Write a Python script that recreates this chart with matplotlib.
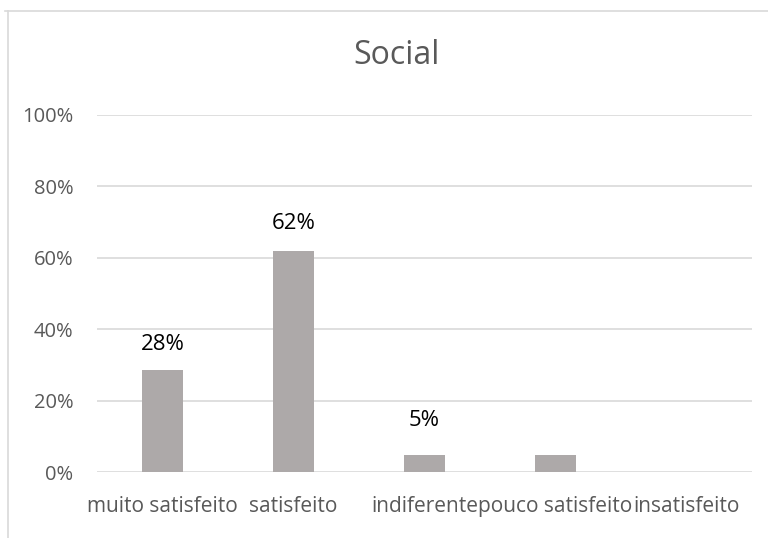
import matplotlib.pyplot as plt
from matplotlib.lines import Line2D
from matplotlib.ticker import FuncFormatter

# data
categories = ["muito satisfeito", "satisfeito", "indiferente", "pouco satisfeito", "insatisfeito"]
values = [0.286, 0.619, 0.048, 0.048, 0.0]
labels = ["28%", "62%", "5%", None, None]
label_y = [0.357, 0.695, 0.144, None, None]

GRAY_TXT = "#595959"
GRID = "#D9D9D9"
BAR = "#ADA9A9"

plt.rcParams["font.family"] = ["Open Sans", "DejaVu Sans"]

fig = plt.figure(figsize=(7.68, 5.38), dpi=100)
ax = fig.add_axes([97 / 768, 1 - 472 / 538, 655 / 768, 357 / 538])

x = range(len(categories))
ax.bar(x, values, width=0.31, color=BAR, zorder=3)

for i, (lab, ly) in enumerate(zip(labels, label_y)):
    if lab is None:
        continue
    ax.text(i, ly, lab, ha="center", va="center", fontsize=16, color="black")

ax.set_xlim(-0.5, len(categories) - 0.5)
ax.set_ylim(0, 1)
ax.set_yticks([0, 0.2, 0.4, 0.6, 0.8, 1.0])
ax.yaxis.set_major_formatter(FuncFormatter(lambda v, p: f"{v * 100:.0f}%"))
ax.set_xticks(list(x))
ax.set_xticklabels(categories)
ax.tick_params(axis="y", length=0, labelsize=14.5, labelcolor=GRAY_TXT, pad=17)
ax.tick_params(axis="x", length=0, labelsize=15, labelcolor=GRAY_TXT, pad=17)
ax.grid(axis="y", color=GRID, linewidth=1.2, zorder=0)
for s in ax.spines.values():
    s.set_visible(False)

fig.text(396.5 / 768, 1 - 56 / 538, "Social", ha="center", va="center",
         fontsize=23, color=GRAY_TXT)

# chart area border (cropped)
fig.add_artist(Line2D([5 / 768, 1], [1 - 11 / 538, 1 - 11 / 538], color=GRID, linewidth=1.2))
fig.add_artist(Line2D([8 / 768, 8 / 768], [0, 1 - 11 / 538], color=GRID, linewidth=1.2))

fig.savefig("out.png", dpi=100)
